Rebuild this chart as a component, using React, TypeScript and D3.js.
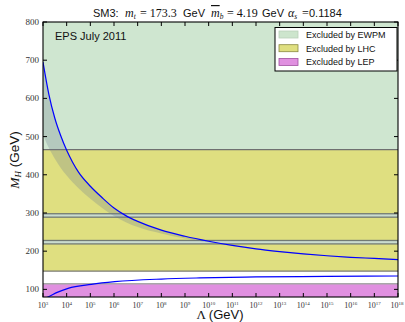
import * as d3 from "d3";
import React from "react";

// decades of Lambda (log10 GeV) and bounds in GeV
const upperLog = [3.0, 3.25, 3.5, 3.75, 4.0, 4.25, 4.5, 5.0, 5.5, 6.0, 6.5, 7.0, 8.0, 9.0, 10.0, 11.0, 12.0, 13.0, 14.0, 15.0, 16.0, 17.0, 18.0];
const upperMH = [695, 610, 548, 502, 464, 433, 407, 370, 340, 313, 293, 278, 255, 239, 226, 215, 206, 199, 193, 188, 184, 181, 178];

const bandLog = [3.0, 3.25, 3.5, 3.75, 4.0, 4.5, 5.0, 5.5, 6.0, 6.5, 7.0, 8.0, 9.0, 10.0, 11.0, 12.0, 14.0, 16.0, 18.0];
const bandMH = [505, 470, 442, 418, 398, 365, 337, 313, 292, 276, 263, 246, 233, 223.5, 213.5, 205, 192, 183, 177.5];

const lowerLog = [3.0, 3.28, 3.6, 4.06, 5.04, 6.03, 8.0, 9.62, 12.0, 15.0, 18.0];
const lowerMH = [74, 82, 92, 102.6, 113, 120, 127, 130, 132.5, 134, 135];

// excluded regions (GeV)
const lepMax = 114.4;
const lhcRange = [148, 466];
const lhcGaps = [[219, 228], [289, 298]];

const yTicks = [100, 200, 300, 400, 500, 600, 700, 800];
const xExps = d3.range(3, 19);

const legendItems = [
  { label: "Excluded by EWPM", fill: "#cde5cd", stroke: "#b9d0b9" },
  { label: "Excluded by LHC", fill: "#dfdf80", stroke: "#8a8a40" },
  { label: "Excluded by LEP", fill: "#e090e0", stroke: "#a050a0" },
];

const W = 405;
const H = 322;
const margin = { top: 22, right: 7, bottom: 25, left: 43 };
const serif = "'Liberation Serif', 'DejaVu Serif', serif";
const sans = "'Liberation Sans', Arial, sans-serif";

export default function App() {
  const x = d3
    .scaleLog()
    .domain([1e3, 1e18])
    .range([margin.left, W - margin.right]);
  const y = d3
    .scaleLinear()
    .domain([80, 800])
    .range([H - margin.bottom, margin.top]);

  const x0 = x.range()[0];
  const x1 = x.range()[1];
  const y0 = y.range()[0];
  const y1 = y.range()[1];

  const toPts = (logs: number[], vals: number[]) =>
    logs.map((l, i) => [Math.pow(10, l), vals[i]] as [number, number]);

  const line = d3
    .line<[number, number]>()
    .x((d) => x(d[0]))
    .y((d) => y(d[1]))
    .curve(d3.curveMonotoneX);

  const upperPts = toPts(upperLog, upperMH);
  const bandPts = toPts(bandLog, bandMH);
  const lowerPts = toPts(lowerLog, lowerMH);

  // shaded band between upper curve and its lower edge
  const bandPath = line(upperPts) + "L" + line(bandPts.slice().reverse())!.slice(1) + "Z";

  const hrect = (lo: number, hi: number) => ({ y: y(hi), height: y(lo) - y(hi) });

  return (
    <svg width={W} height={H} style={{ position: "absolute", left: 0, top: 0, background: "#fff" }}>
      <defs>
        <clipPath id="plot">
          <rect x={x0} y={y1} width={x1 - x0} height={y0 - y1} />
        </clipPath>
      </defs>
      <g clipPath="url(#plot)">
        <rect x={x0} width={x1 - x0} {...hrect(lhcRange[0], 800)} fill="#cfe6d0" />
        <rect x={x0} width={x1 - x0} {...hrect(lhcRange[0], lhcRange[1])} fill="#dfdf80" />
        {lhcGaps.map((g, i) => (
          <rect key={i} x={x0} width={x1 - x0} {...hrect(g[0], g[1])} fill="#cadccf" stroke="#727b74" strokeWidth={1.3} />
        ))}
        <rect x={x0} width={x1 - x0} {...hrect(80, lepMax)} fill="#e090e0" />
        <line x1={x0} x2={x1} y1={y(lhcRange[1])} y2={y(lhcRange[1])} stroke="#6f7070" strokeWidth={1.3} />
        <line x1={x0} x2={x1} y1={y(lhcRange[0])} y2={y(lhcRange[0])} stroke="#7a7a70" strokeWidth={1.3} />
        <line x1={x0} x2={x1} y1={y(lepMax)} y2={y(lepMax)} stroke="#a8a8a8" strokeWidth={1.5} />
        <path d={bandPath} fill="#6a7a90" fillOpacity={0.27} />
        <path d={line(upperPts)!} fill="none" stroke="#0000ff" strokeWidth={1.2} />
        <path d={line(lowerPts)!} fill="none" stroke="#0000ff" strokeWidth={1.2} />
      </g>

      {/* frame */}
      <rect x={x0} y={y1} width={x1 - x0} height={y0 - y1} fill="none" stroke="#000" strokeWidth={1.1} />

      {/* ticks */}
      {yTicks.map((t) => (
        <g key={t}>
          <line x1={x0} x2={x0 + 4} y1={y(t)} y2={y(t)} stroke="#000" />
          <line x1={x1} x2={x1 - 4} y1={y(t)} y2={y(t)} stroke="#000" />
          <text x={x0 - 4} y={y(t) + 3} textAnchor="end" fontFamily={serif} fontSize={9} fill="#333">
            {t}
          </text>
        </g>
      ))}
      {xExps.map((e) => (
        <g key={e}>
          <line x1={x(Math.pow(10, e))} x2={x(Math.pow(10, e))} y1={y0} y2={y0 - 4} stroke="#000" />
          <line x1={x(Math.pow(10, e))} x2={x(Math.pow(10, e))} y1={y1} y2={y1 + 4} stroke="#000" />
          <text x={Math.min(x(Math.pow(10, e)), 397)} y={y0 + 11} textAnchor="middle" fontFamily={serif} fontSize={8} fill="#333">
            10
            <tspan fontSize={5} dy={-3.5}>
              {e}
            </tspan>
          </text>
        </g>
      ))}

      {/* title */}
      <g fontSize={11} fill="#111">
        <text x={93} y={17} fontFamily={sans}>SM3:</text>
        <text x={125} y={17} fontFamily={serif} fontStyle="italic" fontSize={12}>
          m<tspan fontSize={7.5} dy={2}>t</tspan>
        </text>
        <text x={140} y={17} fontFamily={serif} fontSize={12}>= 173.3</text>
        <text x={183} y={17} fontFamily={sans}>GeV</text>
        <text x={211} y={17} fontFamily={serif} fontStyle="italic" fontSize={12}>
          <tspan textDecoration="overline">m</tspan>
          <tspan fontSize={7.5} dy={2}>b</tspan>
        </text>
        <text x={227} y={17} fontFamily={serif} fontSize={12}>= 4.19</text>
        <text x={262} y={17} fontFamily={sans}>GeV</text>
        <text x={288} y={17} fontFamily={serif} fontStyle="italic" fontSize={12}>
          α<tspan fontSize={7.5} dy={2}>s</tspan>
        </text>
        <text x={302} y={17} fontFamily={serif} fontSize={12}>=</text>
        <text x={309} y={17} fontFamily={sans}>0.1184</text>
      </g>

      <text x={55} y={40} fontFamily={sans} fontSize={11} fill="#111">
        EPS July 2011
      </text>

      {/* legend */}
      <rect x={275} y={27.5} width={122} height={43.5} fill="#fff" stroke="#000" strokeWidth={1} />
      {legendItems.map((d, i) => (
        <g key={d.label} transform={`translate(279,${34.5 + i * 13.7})`}>
          <rect x={0} y={-3.5} width={19} height={7} fill={d.fill} stroke={d.stroke} strokeWidth={0.8} />
          <text x={27} y={3.3} fontFamily={sans} fontSize={9} fill="#111">
            {d.label}
          </text>
        </g>
      ))}

      {/* axis labels */}
      <text x={220} y={319} textAnchor="middle" fontSize={13} fill="#111">
        <tspan fontFamily={serif}>Λ </tspan>
        <tspan fontFamily={sans}>(GeV)</tspan>
      </text>
      <text transform="translate(19,160) rotate(-90)" textAnchor="middle" fontSize={13.5} fill="#111">
        <tspan fontFamily={serif} fontStyle="italic">M</tspan>
        <tspan fontFamily={serif} fontStyle="italic" fontSize={9} dy={2}>H</tspan>
        <tspan fontFamily={sans} dy={-2}> (GeV)</tspan>
      </text>
    </svg>
  );
}
